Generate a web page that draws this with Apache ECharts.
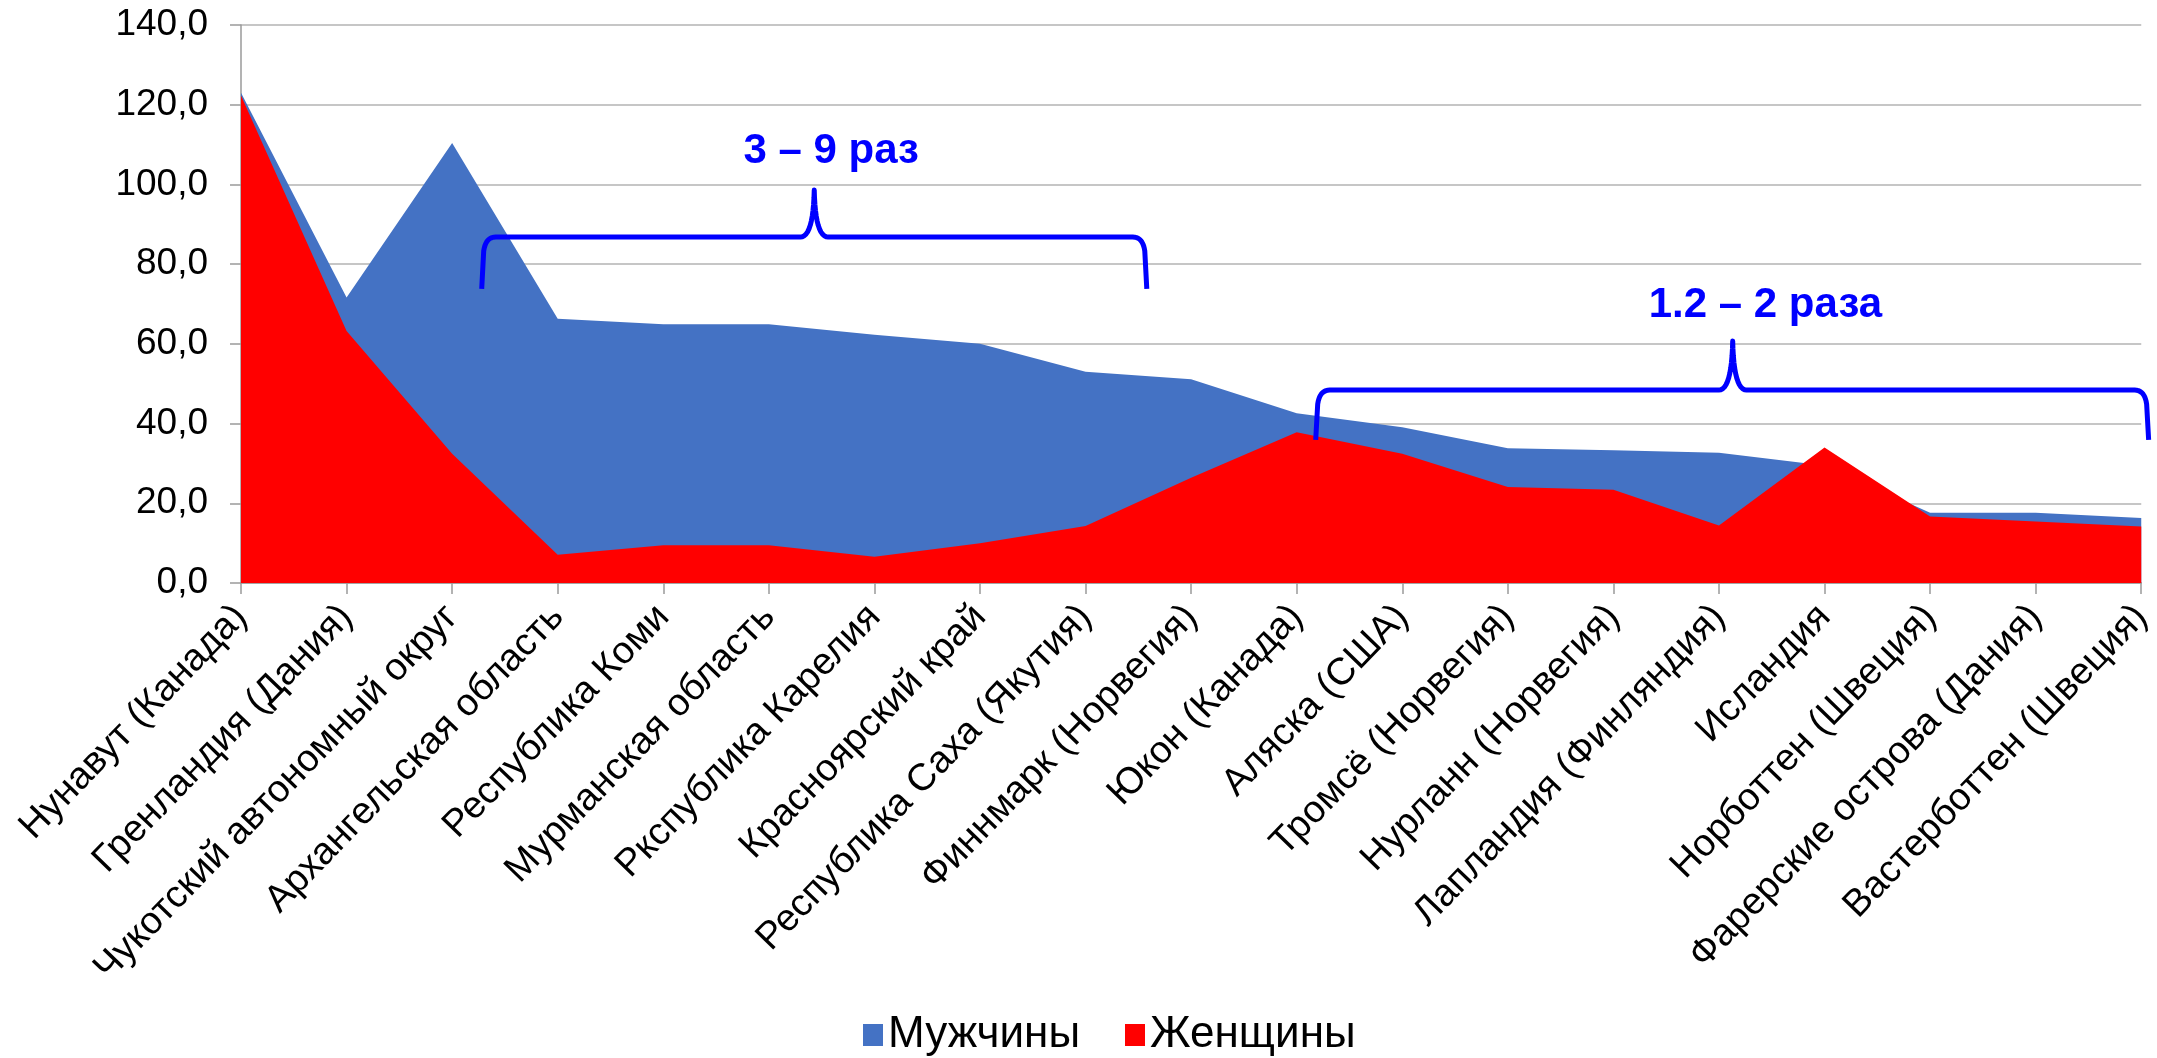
<!DOCTYPE html>
<html>
<head>
<meta charset="utf-8">
<script src="https://cdn.jsdelivr.net/npm/echarts@6/dist/echarts.min.js"></script>
<style>
html,body{margin:0;padding:0;background:#fff;}
#chart{width:2157px;height:1058px;}
</style>
</head>
<body>
<div id="chart"></div>
<script>
const categories = [
  'Нунавут (Канада)', 'Гренландия (Дания)', 'Чукотский автономный округ', 'Архангельская область',
  'Республика Коми', 'Мурманская область', 'Ркспублика Карелия', 'Красноярский край',
  'Республика Саха (Якутия)', 'Финнмарк (Норвегия)', 'Юкон (Канада)', 'Аляска (США)',
  'Тромсё (Норвегия)', 'Нурланн (Норвегия)', 'Лапландия (Финляндия)', 'Исландия',
  'Норботтен (Швеция)', 'Фарерские острова (Дания)', 'Вастерботтен (Швеция)'
];
const men   = [123.0, 71.6, 110.4, 66.3, 64.9, 64.9, 62.3, 60.0, 53.0, 51.1, 42.6, 39.1, 33.8, 33.3, 32.7, 29.5, 17.6, 17.6, 16.3];
const women = [122.3, 63.2, 32.4, 7.1, 9.5, 9.5, 6.6, 10.0, 14.3, 26.4, 37.8, 32.4, 24.1, 23.4, 14.4, 34.0, 16.7, 15.4, 14.2];
const seriesNames = ['Мужчины', 'Женщины'];
const yTicks = { min: 0, max: 140, interval: 20 };

// annotations in data coordinates (category index, value)
const braces = [
  { x0: 2.28, xm: 5.43, x1: 8.58, yEnd: 73.8, yLine: 86.8, yPeak: 98.6, text: '3 – 9 раз', tx: 5.59, ty: 108.4 },
  { x0: 10.18, xm: 14.13, x1: 18.07, yEnd: 35.9, yLine: 48.4, yPeak: 60.7, text: '1.2 – 2 раза', tx: 14.44, ty: 69.7 }
];

const FONT = 'Arial, "Liberation Sans", sans-serif';
const chart = echarts.init(document.getElementById('chart'), null, { renderer: 'canvas' });

chart.setOption({
  animation: false,
  backgroundColor: '#ffffff',
  grid: { left: 241, right: 14, top: 25, bottom: 475, containLabel: false },
  legend: {
    data: seriesNames,
    left: 858, top: 1008,
    itemWidth: 20, itemHeight: 22, itemGap: 45,
    icon: 'rect',
    textStyle: { fontFamily: FONT, fontSize: 44, color: '#000', padding: [0, 0, 0, 0] }
  },
  xAxis: {
    type: 'category',
    data: categories,
    boundaryGap: false,
    axisLine: { show: true, lineStyle: { color: '#9a9a9a', width: 1.5 } },
    axisTick: { show: true, length: 11, lineStyle: { color: '#9a9a9a', width: 1.5 }, interval: 0 },
    axisLabel: { interval: 0, rotate: 46, margin: 28, fontFamily: FONT, fontSize: 38, color: '#000' },
    splitLine: { show: false }
  },
  yAxis: {
    type: 'value',
    min: yTicks.min, max: yTicks.max, interval: yTicks.interval,
    axisLine: { show: true, lineStyle: { color: '#9a9a9a', width: 1.5 } },
    axisTick: { show: true, length: 11, lineStyle: { color: '#9a9a9a', width: 1.5 } },
    axisLabel: { margin: 33, fontFamily: FONT, fontSize: 37, color: '#000',
      formatter: v => v.toFixed(1).replace('.', ',') },
    splitLine: { show: true, lineStyle: { color: '#b3b3b3', width: 1.5 } }
  },
  series: [
    { name: seriesNames[0], type: 'line', data: men, showSymbol: false, symbol: 'none',
      lineStyle: { width: 0 }, itemStyle: { color: '#4472C4' },
      areaStyle: { color: '#4472C4', opacity: 1 }, z: 2 },
    { name: seriesNames[1], type: 'line', data: women, showSymbol: false, symbol: 'none',
      lineStyle: { width: 0 }, itemStyle: { color: '#FF0000' },
      areaStyle: { color: '#FF0000', opacity: 1 }, z: 3 }
  ]
});

// convert data coords to pixels via the axes
const pA = chart.convertToPixel({ xAxisIndex: 0, yAxisIndex: 0 }, [0, 0]);
const pB = chart.convertToPixel({ xAxisIndex: 0, yAxisIndex: 0 }, [categories.length - 1, yTicks.max]);
function px(ix) { return pA[0] + (pB[0] - pA[0]) * ix / (categories.length - 1); }
function py(v) { return pA[1] + (pB[1] - pA[1]) * v / yTicks.max; }

function quad(p0, c, p1, n) {
  const pts = [];
  for (let i = 1; i <= n; i++) {
    const t = i / n;
    pts.push([
      (1 - t) * (1 - t) * p0[0] + 2 * (1 - t) * t * c[0] + t * t * p1[0],
      (1 - t) * (1 - t) * p0[1] + 2 * (1 - t) * t * c[1] + t * t * p1[1]
    ]);
  }
  return pts;
}

const graphics = [];
braces.forEach(b => {
  const X0 = px(b.x0), XM = px(b.xm), X1 = px(b.x1);
  const YE = py(b.yEnd), YL = py(b.yLine), YP = py(b.yPeak);
  const r = 14, m = 14;
  let pts = [[X0, YE], [X0 + 2, YL + r]];
  pts = pts.concat(quad([X0 + 2, YL + r], [X0 + 4, YL], [X0 + r, YL], 10));
  pts.push([XM - m, YL]);
  pts = pts.concat(quad([XM - m, YL], [XM - 1, YL], [XM, YP], 12));
  pts = pts.concat(quad([XM, YP], [XM + 1, YL], [XM + m, YL], 12));
  pts.push([X1 - r, YL]);
  pts = pts.concat(quad([X1 - r, YL], [X1 - 4, YL], [X1 - 2, YL + r], 10));
  pts.push([X1, YE]);
  graphics.push({
    type: 'polyline', z: 100,
    shape: { points: pts },
    style: { stroke: '#0000FF', lineWidth: 5, fill: null, lineJoin: 'round' }
  });
  graphics.push({
    type: 'text', z: 100,
    x: px(b.tx), y: py(b.ty),
    style: { text: b.text, fill: '#0000FF', font: 'bold 42px ' + FONT,
      align: 'center', verticalAlign: 'middle', textAlign: 'center', textVerticalAlign: 'middle' }
  });
});
chart.setOption({ graphic: { elements: graphics } });
</script>
</body>
</html>
